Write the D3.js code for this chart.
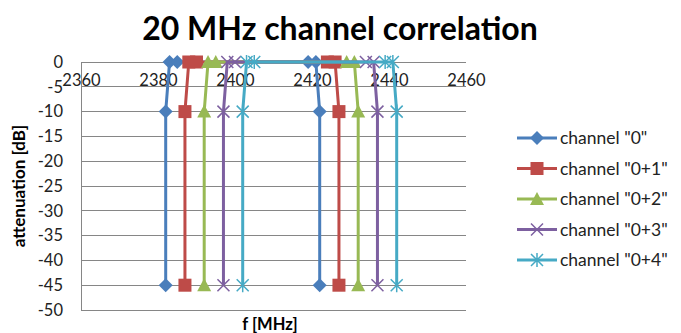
<!DOCTYPE html>
<html>
<head>
<meta charset="utf-8">
<script src="https://cdn.jsdelivr.net/npm/d3@7"></script>
<style>
body { margin: 0; background: #fff; }
svg { font-family: Lato, "Liberation Sans", sans-serif; }
</style>
</head>
<body>
<svg id="chart" width="681" height="333"></svg>
<script>
// 数据
let xTicks = [2360, 2380, 2400, 2420, 2440, 2460]
let yTicks = [0, -5, -10, -15, -20, -25, -30, -35, -40, -45, -50]
let seriesNames = ['channel "0"', 'channel "0+1"', 'channel "0+2"', 'channel "0+3"', 'channel "0+4"']
let chan0 = [[2382, -45], [2382, -10], [2383, 0], [2385, 0], [2419, 0], [2421, 0], [2422, -10], [2422, -45]]
let chan1 = [[2387, -45], [2387, -10], [2388, 0], [2390, 0], [2424, 0], [2426, 0], [2427, -10], [2427, -45]]
let chan2 = [[2392, -45], [2392, -10], [2393, 0], [2395, 0], [2429, 0], [2431, 0], [2432, -10], [2432, -45]]
let chan3 = [[2397, -45], [2397, -10], [2398, 0], [2400, 0], [2434, 0], [2436, 0], [2437, -10], [2437, -45]]
let chan4 = [[2402, -45], [2402, -10], [2403, 0], [2405, 0], [2439, 0], [2441, 0], [2442, -10], [2442, -45]]
let dataset = [chan0, chan1, chan2, chan3, chan4]

let colors = ["#4A7EBB", "#BE4B48", "#98B954", "#7D60A0", "#46AAC5"]
let shapes = ["diamond", "square", "triangle", "cross", "star"]

let svg = d3.select("#chart")
let margin = { left: 81, right: 215, top: 62, bottom: 23 }
let width = 681, height = 333

let xScale = d3.scaleLinear().domain([2360, 2460]).range([margin.left, width - margin.right])
let yScale = d3.scaleLinear().domain([-50, 0]).range([height - margin.bottom, margin.top])

// 标题
svg.append("text")
    .attr("x", 340).attr("y", 40)
    .attr("text-anchor", "middle")
    .attr("font-size", "32px").attr("font-weight", "bold")
    .text("20 MHz channel correlation")

// 网格线
svg.append("g").selectAll("line")
    .data(yTicks)
    .enter().append("line")
    .attr("x1", margin.left).attr("x2", width - margin.right)
    .attr("y1", d => yScale(d)).attr("y2", d => yScale(d))
    .attr("stroke", "#868686").attr("stroke-width", 1)
    .attr("shape-rendering", "crispEdges")

// y 轴
let yAxis = svg.append("g")
    .attr("transform", "translate(" + margin.left + ",0)")
    .call(d3.axisLeft(yScale).tickValues(yTicks).tickFormat(d => String(d)).tickSize(0).tickPadding(18))
yAxis.select(".domain").attr("stroke", "#868686")
yAxis.selectAll("text").attr("font-size", "16.5px").attr("fill", "#222").style("font-family", "Lato, sans-serif")

// x 轴 (在 y=0 处)
let xAxis = svg.append("g")
    .attr("transform", "translate(0," + yScale(0) + ")")
    .call(d3.axisBottom(xScale).tickValues(xTicks).tickFormat(d => String(d)).tickSize(0).tickPadding(12))
xAxis.select(".domain").remove()
xAxis.selectAll("text").attr("font-size", "16.5px").attr("fill", "#222").style("font-family", "Lato, sans-serif")

// 轴标题
svg.append("text")
    .attr("transform", "translate(25," + ((margin.top + height - margin.bottom) / 2) + ") rotate(-90)")
    .attr("text-anchor", "middle")
    .attr("font-size", "17px").attr("font-weight", "bold")
    .text("attenuation [dB]")
svg.append("text")
    .attr("x", 270).attr("y", 330)
    .attr("text-anchor", "middle")
    .attr("font-size", "16.5px").attr("font-weight", "bold")
    .text("f [MHz]")

// 标记
function drawMarker(g, shape, color, x, y) {
    if (shape == "diamond") {
        g.append("path").attr("d", `M${x},${y - 7}L${x + 7},${y}L${x},${y + 7}L${x - 7},${y}Z`).attr("fill", color)
    } else if (shape == "square") {
        g.append("rect").attr("x", x - 6.5).attr("y", y - 6.5).attr("width", 13).attr("height", 13).attr("fill", color)
    } else if (shape == "triangle") {
        g.append("path").attr("d", `M${x},${y - 7}L${x + 7},${y + 6}L${x - 7},${y + 6}Z`).attr("fill", color)
    } else if (shape == "cross") {
        g.append("path").attr("d", `M${x - 6},${y - 6}L${x + 6},${y + 6}M${x - 6},${y + 6}L${x + 6},${y - 6}`)
            .attr("stroke", color).attr("stroke-width", 1.5)
    } else {
        g.append("path").attr("d", `M${x - 6},${y - 6}L${x + 6},${y + 6}M${x - 6},${y + 6}L${x + 6},${y - 6}M${x},${y - 7}L${x},${y + 7}`)
            .attr("stroke", color).attr("stroke-width", 1.5)
    }
}

let line = d3.line().x(d => xScale(d[0])).y(d => yScale(d[1]))

dataset.forEach(function (data, i) {
    let g = svg.append("g")
    g.append("path")
        .datum(data)
        .attr("d", line)
        .attr("fill", "none")
        .attr("stroke", colors[i])
        .attr("stroke-width", 3)
        .attr("stroke-linejoin", "round")
    data.forEach(function (d) {
        drawMarker(g, shapes[i], colors[i], xScale(d[0]), yScale(d[1]))
    })
})

// 图例
let legend = svg.append("g")
seriesNames.forEach(function (name, i) {
    let y = 138 + i * 30.5
    legend.append("line")
        .attr("x1", 517).attr("x2", 557)
        .attr("y1", y).attr("y2", y)
        .attr("stroke", colors[i]).attr("stroke-width", 3)
    drawMarker(legend, shapes[i], colors[i], 537, y)
    legend.append("text")
        .attr("x", 560).attr("y", y + 6)
        .attr("font-size", "17.5px").attr("fill", "#222")
        .text(name)
})
</script>
</body>
</html>
